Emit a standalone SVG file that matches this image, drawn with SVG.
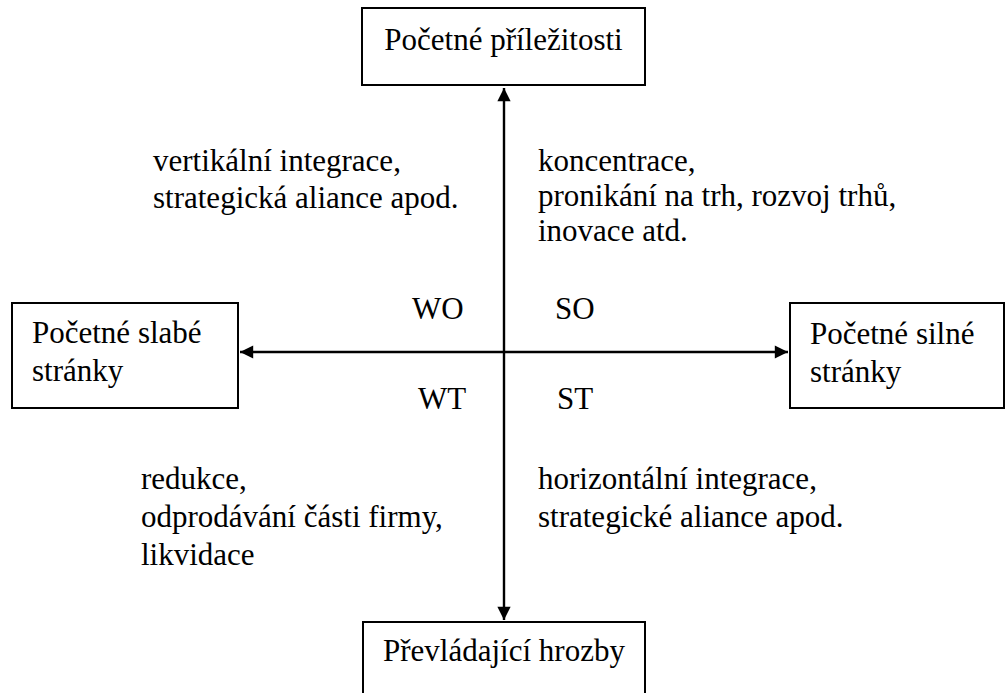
<svg xmlns="http://www.w3.org/2000/svg" width="1008" height="693" viewBox="0 0 1008 693">
  <style>
    .box { fill: #ffffff; stroke: #000000; stroke-width: 2; }
    .axis { stroke: #000000; stroke-width: 2.4; fill: none; }
    .lbl { font-family: 'Liberation Serif', 'DejaVu Serif', 'Times New Roman', serif; font-size: 31px; fill: #000000; }
  </style>
  <defs>
    <marker id="arrow" viewBox="0 0 10 10" refX="10" refY="5" markerWidth="6.5" markerHeight="5.5" markerUnits="strokeWidth" orient="auto-start-reverse">
      <path d="M0,0 L10,5 L0,10 Z" fill="#000000"/>
    </marker>
  </defs>
  <rect width="1008" height="693" fill="#ffffff"/>

  <!-- axes -->
  <g id="connectors">
    <line class="axis" x1="504" y1="88" x2="504" y2="620" marker-start="url(#arrow)" marker-end="url(#arrow)"/>
    <line class="axis" x1="240" y1="352" x2="788" y2="352" marker-start="url(#arrow)" marker-end="url(#arrow)"/>
  </g>

  <g class="lbl">
    <g id="opportunities">
      <rect class="box" x="362" y="8" width="283" height="77"/>
      <text x="503.5" y="50" text-anchor="middle">Početné příležitosti</text>
    </g>

    <g id="threats">
      <rect class="box" x="363" y="622" width="282" height="90"/>
      <text x="504" y="661" text-anchor="middle">Převládající hrozby</text>
    </g>

    <g id="weaknesses">
      <rect class="box" x="12" y="303" width="226" height="105"/>
      <text x="32" y="343">Početné slabé</text>
      <text x="32" y="381">stránky</text>
    </g>

    <g id="strengths">
      <rect class="box" x="790" y="303" width="214" height="105"/>
      <text x="810" y="344">Početné silné</text>
      <text x="810" y="382">stránky</text>
    </g>

    <!-- quadrant labels -->
    <g id="quadrants">
      <text x="412" y="319">WO</text>
      <text x="555" y="319">SO</text>
      <text x="418" y="409">WT</text>
      <text x="557" y="409">ST</text>
    </g>

    <!-- strategies per quadrant -->
    <g id="strategy-wo">
      <text x="153" y="171">vertikální integrace,</text>
      <text x="153" y="208">strategická aliance apod.</text>
    </g>
    <g id="strategy-so">
      <text x="538" y="171">koncentrace,</text>
      <text x="538" y="206">pronikání na trh, rozvoj trhů,</text>
      <text x="538" y="241">inovace atd.</text>
    </g>
    <g id="strategy-wt">
      <text x="141" y="489">redukce,</text>
      <text x="141" y="527">odprodávání části firmy,</text>
      <text x="141" y="565">likvidace</text>
    </g>
    <g id="strategy-st">
      <text x="538" y="489">horizontální integrace,</text>
      <text x="538" y="527">strategické aliance apod.</text>
    </g>
  </g>
</svg>
